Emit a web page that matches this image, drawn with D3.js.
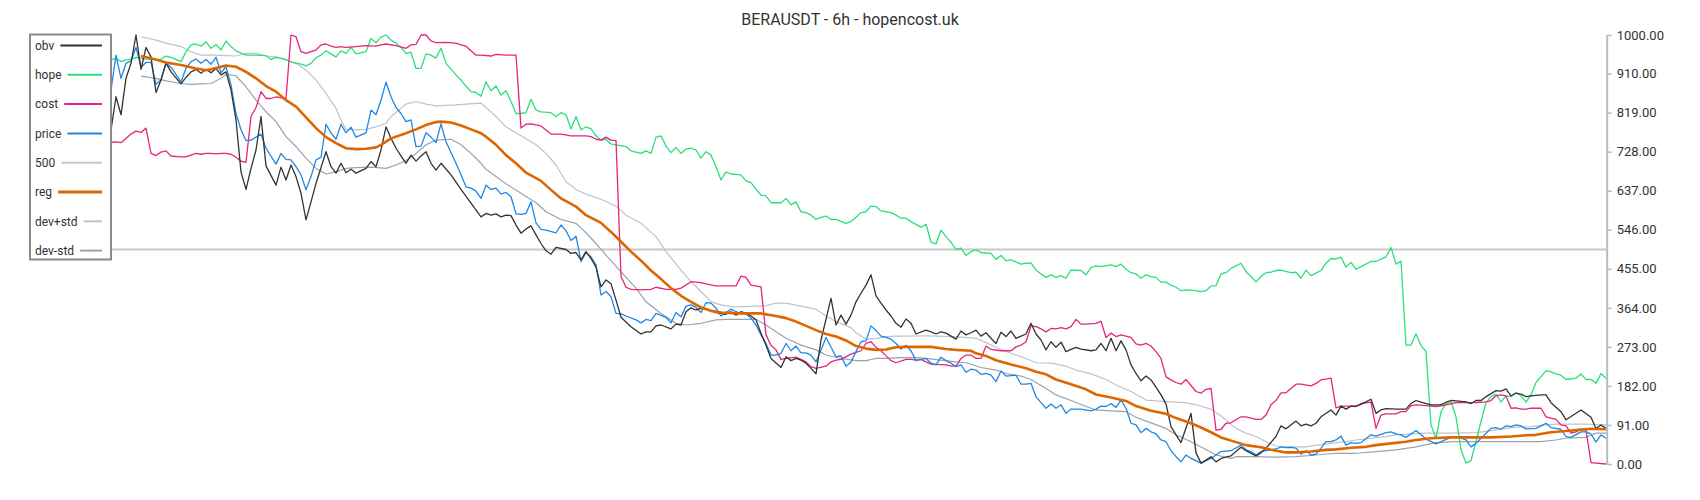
<!DOCTYPE html>
<html><head><meta charset="utf-8">
<script src="https://cdn.jsdelivr.net/npm/d3@7"></script>
<style>body{margin:0;background:#fff} svg{display:block} text{font-family:Roboto,"Noto Sans",sans-serif}</style>
</head><body><svg id="c" width="1700" height="500"></svg>
<script>
const chartTitle = "BERAUSDT - 6h - hopencost.uk";
const yTicks = [0,91,182,273,364,455,546,637,728,819,910,1000];
const level500 = 500;
const barCount = 300;
// [bar index, value]
const obv = [[0,779],[1,856],[2,814],[3,899],[4,934],[5,1000],[6,920],[7,971],[8,949],[9,866],[10,895],[11,935],[12,914],[14,886],[15,901],[16,914],[17,920],[18,911],[19,920],[20,912],[21,922],[22,907],[23,914],[24,872],[25,802],[26,681],[27,640],[28,689],[29,732],[30,810],[31,695],[33,650],[34,692],[35,662],[36,697],[37,670],[38,631],[39,569],[40,611],[41,654],[43,728],[44,693],[45,678],[46,701],[47,679],[48,687],[49,678],[51,689],[52,705],[53,693],[54,732],[55,786],[56,759],[57,736],[58,718],[59,701],[60,720],[61,706],[62,718],[63,728],[64,701],[65,685],[66,701],[68,674],[70,640],[72,608],[74,576],[75,584],[76,580],[77,583],[78,576],[79,580],[80,579],[81,557],[82,538],[83,548],[84,555],[85,534],[86,514],[87,497],[88,489],[89,505],[91,500],[92,491],[93,493],[94,476],[95,495],[96,479],[97,459],[98,413],[99,429],[100,420],[101,382],[102,342],[104,320],[106,303],[107,308],[108,308],[109,322],[110,324],[112,315],[113,326],[114,324],[115,355],[116,364],[117,359],[118,363],[119,361],[120,357],[121,353],[123,349],[124,355],[125,347],[126,355],[127,351],[128,345],[129,336],[130,305],[131,277],[132,246],[134,225],[135,250],[136,241],[137,246],[138,242],[139,235],[140,223],[141,210],[142,289],[144,386],[145,324],[146,347],[147,326],[148,347],[149,378],[150,398],[151,417],[152,441],[153,392],[154,375],[155,359],[156,345],[157,328],[158,319],[159,338],[160,328],[161,303],[163,312],[164,308],[165,303],[166,308],[167,305],[168,298],[169,291],[170,310],[171,301],[172,306],[173,312],[174,298],[175,306],[176,293],[177,281],[178,307],[179,297],[180,310],[181,293],[183,303],[184,328],[185,303],[186,289],[187,266],[188,285],[189,272],[190,284],[191,262],[192,267],[193,272],[194,268],[196,264],[197,266],[198,281],[199,264],[200,293],[201,264],[202,287],[203,266],[204,231],[205,211],[206,194],[207,205],[208,196],[209,179],[210,161],[211,140],[212,87],[213,68],[214,50],[216,118],[217,26],[218,2],[219,9],[220,17],[221,5],[222,13],[224,19],[226,39],[227,31],[229,19],[230,26],[231,37],[233,64],[234,89],[235,82],[237,100],[238,89],[239,93],[240,89],[241,95],[242,110],[244,126],[245,114],[246,135],[247,128],[248,135],[249,135],[250,139],[252,151],[253,118],[254,126],[255,129],[257,128],[259,128],[260,141],[261,148],[262,144],[264,138],[266,138],[267,144],[268,148],[269,147],[271,145],[272,141],[273,148],[274,148],[275,157],[277,171],[278,170],[279,175],[280,159],[281,165],[282,163],[283,157],[284,159],[286,161],[287,161],[288,143],[290,122],[291,103],[294,126],[296,109],[297,83],[298,91],[299,83]];
const hope = [[0,942],[1,946],[2,938],[3,942],[4,944],[5,948],[7,944],[9,942],[10,944],[11,951],[12,948],[14,938],[15,961],[16,977],[17,979],[18,974],[19,984],[20,969],[21,978],[22,965],[23,986],[24,973],[25,963],[27,953],[29,953],[31,952],[32,943],[33,948],[35,943],[36,937],[38,932],[39,928],[40,934],[41,947],[42,953],[43,963],[44,956],[45,949],[46,963],[47,957],[48,971],[49,956],[51,961],[52,992],[53,982],[54,995],[55,1000],[56,988],[57,981],[58,971],[59,957],[60,960],[61,922],[62,922],[63,956],[64,953],[65,946],[66,969],[67,934],[69,907],[70,895],[71,881],[72,868],[73,866],[74,857],[75,891],[76,870],[77,881],[78,860],[79,870],[80,845],[81,817],[82,817],[83,819],[84,850],[85,825],[86,821],[88,819],[89,810],[90,819],[91,814],[92,781],[93,810],[94,779],[95,786],[96,781],[97,765],[98,755],[99,757],[100,746],[101,744],[103,740],[104,730],[106,724],[107,730],[108,724],[109,762],[110,765],[111,741],[112,726],[113,738],[114,724],[115,734],[116,736],[117,732],[118,713],[119,728],[120,720],[121,693],[122,662],[123,681],[124,676],[126,674],[127,660],[128,656],[129,640],[130,627],[131,625],[132,609],[133,609],[134,609],[135,619],[136,604],[137,611],[138,588],[139,586],[140,580],[141,570],[142,575],[143,578],[144,570],[145,570],[147,561],[148,565],[149,575],[150,586],[151,588],[152,601],[153,600],[154,590],[156,586],[157,580],[158,573],[159,573],[160,565],[162,552],[163,559],[164,517],[165,513],[166,545],[167,530],[168,517],[169,500],[170,503],[171,486],[172,495],[173,499],[174,493],[176,491],[177,477],[178,486],[179,474],[180,476],[182,466],[183,468],[184,469],[185,452],[186,443],[187,435],[188,441],[189,435],[190,439],[191,433],[192,452],[194,451],[195,441],[196,458],[197,462],[198,460],[200,464],[201,460],[202,466],[203,454],[204,446],[205,443],[206,433],[207,441],[208,437],[209,435],[210,424],[211,424],[212,417],[213,412],[214,404],[215,406],[217,404],[218,402],[219,404],[220,415],[221,416],[222,443],[223,446],[224,456],[226,468],[227,448],[228,437],[229,424],[230,437],[231,446],[232,447],[233,451],[234,452],[236,446],[237,447],[238,433],[239,452],[240,439],[241,445],[242,451],[243,468],[244,479],[245,478],[246,482],[247,459],[248,470],[249,454],[250,460],[252,472],[253,472],[255,483],[256,505],[257,466],[258,473],[259,277],[260,277],[261,303],[262,276],[263,262],[264,91],[265,60],[266,122],[267,141],[268,145],[269,110],[270,33],[271,2],[272,8],[274,99],[275,143],[276,157],[277,163],[278,144],[279,159],[280,157],[281,166],[282,159],[283,144],[284,161],[285,190],[287,217],[288,215],[289,210],[290,207],[291,197],[293,200],[294,210],[295,197],[296,197],[297,188],[298,211],[299,200]];
const cost = [[0,750],[1,751],[2,749],[3,759],[4,769],[5,776],[6,773],[7,783],[8,724],[9,719],[10,727],[11,730],[12,718],[14,716],[15,716],[16,720],[17,724],[18,722],[19,724],[20,724],[21,723],[22,724],[23,724],[24,722],[25,715],[26,706],[27,703],[28,810],[29,831],[30,868],[31,852],[32,852],[33,856],[35,852],[36,1000],[37,996],[38,961],[39,957],[40,961],[41,965],[42,977],[43,979],[44,974],[45,971],[46,973],[47,971],[49,973],[51,975],[53,974],[54,977],[55,979],[57,975],[59,969],[60,977],[61,978],[62,1000],[63,1000],[64,986],[65,982],[67,983],[69,981],[70,977],[71,974],[73,953],[74,953],[76,951],[77,955],[79,953],[81,953],[82,783],[83,792],[84,793],[86,788],[88,769],[90,769],[92,765],[93,765],[95,765],[96,763],[97,757],[98,755],[99,762],[100,755],[101,754],[102,437],[103,412],[104,407],[106,406],[108,407],[109,412],[111,407],[113,407],[114,410],[116,425],[118,423],[119,420],[121,415],[123,415],[125,415],[126,438],[127,435],[128,417],[130,413],[131,301],[132,277],[133,266],[134,244],[135,246],[137,249],[138,244],[139,238],[140,227],[141,223],[143,228],[144,238],[145,242],[146,244],[148,256],[149,260],[150,264],[151,281],[152,285],[153,272],[154,264],[155,252],[156,241],[157,236],[159,244],[160,244],[161,242],[162,244],[163,238],[164,233],[165,232],[167,231],[168,228],[169,228],[170,246],[171,254],[172,254],[173,246],[174,246],[175,275],[176,267],[178,264],[179,264],[180,264],[181,273],[182,277],[183,285],[184,322],[185,320],[186,315],[187,308],[188,316],[189,315],[190,318],[191,315],[192,320],[193,337],[194,326],[195,326],[197,328],[198,333],[199,295],[200,305],[201,297],[202,301],[203,298],[204,295],[205,280],[206,277],[207,281],[208,275],[209,262],[210,246],[211,203],[212,196],[213,190],[214,186],[215,197],[217,169],[218,165],[219,174],[220,176],[221,79],[222,81],[223,95],[224,96],[226,110],[227,110],[229,104],[230,104],[231,114],[232,138],[233,148],[234,166],[235,166],[237,186],[238,186],[240,182],[241,188],[242,196],[244,200],[245,131],[246,135],[248,135],[249,134],[250,141],[252,144],[253,83],[254,114],[255,117],[257,117],[258,122],[259,122],[260,136],[261,138],[263,136],[265,134],[267,138],[269,143],[271,143],[273,143],[275,145],[276,148],[277,159],[278,161],[279,159],[280,130],[281,131],[282,128],[283,128],[284,130],[286,130],[287,110],[289,104],[290,91],[291,89],[292,72],[293,75],[294,81],[295,79],[296,3],[297,2],[299,0]];
const price = [[0,872],[1,953],[2,899],[3,934],[4,940],[5,971],[6,925],[7,936],[8,936],[9,885],[10,895],[11,935],[12,925],[14,891],[15,922],[16,938],[17,944],[18,934],[19,943],[20,932],[21,948],[22,912],[23,926],[24,883],[25,817],[26,779],[27,754],[28,755],[29,762],[30,769],[31,736],[33,699],[34,724],[35,710],[36,709],[37,693],[38,674],[39,639],[40,670],[41,709],[42,715],[43,792],[44,772],[45,757],[46,792],[47,772],[48,785],[49,762],[51,772],[52,825],[53,814],[54,848],[55,890],[56,856],[57,831],[58,817],[59,798],[60,802],[61,740],[62,741],[63,772],[64,762],[65,749],[66,793],[67,751],[69,701],[70,674],[71,646],[72,643],[73,636],[74,619],[75,650],[76,640],[77,643],[78,629],[79,633],[80,623],[81,583],[82,582],[83,584],[84,611],[85,562],[86,547],[87,545],[89,539],[90,557],[91,544],[92,521],[93,531],[94,472],[95,493],[96,483],[97,464],[98,394],[99,402],[100,390],[101,351],[102,350],[103,345],[105,336],[106,329],[107,337],[108,334],[109,351],[111,342],[112,329],[113,353],[114,343],[115,368],[116,371],[117,365],[118,353],[119,376],[120,375],[121,363],[122,345],[124,361],[125,355],[126,351],[127,350],[128,340],[129,324],[130,301],[131,281],[132,254],[133,254],[134,258],[135,281],[136,264],[137,275],[138,259],[139,259],[140,254],[141,238],[142,266],[143,295],[145,250],[146,252],[147,228],[148,238],[149,262],[150,285],[151,287],[152,322],[153,311],[154,298],[155,295],[156,291],[157,281],[158,268],[159,277],[160,264],[161,241],[163,246],[164,235],[165,231],[166,249],[167,241],[168,235],[169,227],[170,231],[171,214],[172,221],[173,219],[174,209],[175,211],[176,207],[177,192],[178,217],[179,205],[181,207],[182,186],[183,186],[184,188],[185,157],[186,143],[187,130],[188,140],[189,130],[190,138],[191,118],[192,128],[194,128],[196,124],[197,128],[198,135],[199,134],[200,141],[201,132],[202,149],[203,130],[204,95],[205,91],[206,73],[207,83],[208,75],[209,70],[210,56],[211,52],[212,31],[213,17],[214,5],[215,21],[216,13],[218,2],[219,8],[220,13],[221,21],[222,29],[224,31],[226,44],[227,33],[228,29],[229,21],[230,29],[231,31],[233,35],[234,40],[235,38],[236,39],[237,37],[238,23],[239,31],[240,21],[241,23],[242,37],[243,52],[244,52],[245,56],[246,65],[247,44],[248,50],[249,48],[250,50],[252,68],[253,65],[254,69],[255,73],[256,75],[257,70],[258,68],[259,62],[260,70],[261,78],[262,68],[263,58],[265,47],[266,52],[268,62],[269,64],[270,60],[271,56],[272,40],[273,48],[274,60],[276,83],[277,85],[278,81],[279,89],[280,87],[281,91],[282,89],[283,82],[285,83],[286,89],[287,95],[288,85],[290,81],[291,64],[292,62],[294,75],[295,75],[296,70],[297,51],[298,68],[299,60]];
const reg = [[6,951],[9,943],[11,936],[14,930],[17,922],[19,918],[20,920],[22,926],[23,929],[25,926],[27,914],[29,899],[31,881],[33,868],[35,848],[37,833],[39,808],[41,783],[43,762],[45,748],[47,736],[49,734],[51,735],[53,738],[54,744],[56,759],[59,771],[61,780],[63,790],[65,797],[66,798],[68,796],[70,789],[72,780],[74,771],[75,763],[77,744],[79,720],[81,701],[83,679],[86,660],[88,639],[90,619],[93,600],[95,580],[98,562],[100,541],[102,518],[104,495],[106,474],[108,451],[110,431],[112,410],[114,392],[116,378],[118,365],[120,357],[122,353],[125,351],[127,351],[130,351],[133,345],[135,340],[137,332],[139,322],[141,312],[143,303],[145,297],[147,288],[149,275],[151,269],[153,266],[155,267],[157,272],[159,273],[161,273],[164,273],[167,268],[169,266],[172,264],[173,258],[175,252],[177,242],[180,232],[183,223],[185,215],[187,209],[189,197],[192,186],[195,174],[197,162],[200,155],[203,147],[205,135],[208,124],[211,117],[213,107],[216,95],[218,85],[220,74],[222,62],[225,51],[227,44],[230,39],[232,33],[235,27],[237,27],[240,29],[243,33],[245,34],[248,38],[251,40],[253,44],[256,48],[259,52],[261,56],[264,60],[268,62],[272,62],[276,62],[280,64],[283,67],[285,68],[288,74],[291,77],[293,79],[296,82],[299,81]];
const devPlus = [[6,996],[9,988],[11,981],[14,973],[16,961],[18,953],[21,953],[23,952],[25,951],[27,957],[29,957],[31,951],[33,949],[35,942],[37,934],[39,918],[41,895],[43,864],[45,829],[46,802],[47,780],[49,779],[51,780],[53,786],[55,794],[56,810],[58,829],[59,839],[61,845],[63,839],[65,835],[69,837],[71,839],[74,841],[75,831],[77,810],[79,786],[82,765],[85,744],[87,724],[89,697],[91,658],[93,640],[95,629],[98,617],[101,601],[103,580],[106,561],[109,530],[111,495],[114,452],[116,425],[118,402],[120,378],[122,371],[124,367],[127,367],[129,368],[131,369],[133,375],[135,375],[138,368],[141,361],[143,345],[145,332],[148,318],[149,306],[151,291],[153,293],[155,297],[157,298],[160,298],[163,299],[165,298],[168,297],[171,295],[173,293],[175,283],[177,272],[180,258],[183,246],[185,236],[188,235],[191,228],[193,219],[196,210],[199,197],[201,184],[204,169],[207,149],[209,147],[212,145],[215,143],[217,138],[220,128],[222,112],[225,83],[227,72],[229,64],[231,52],[233,42],[235,40],[239,40],[241,44],[244,48],[247,52],[249,56],[252,60],[255,64],[257,68],[260,70],[263,72],[268,72],[273,73],[276,78],[279,83],[281,86],[284,87],[287,91],[289,93],[292,93],[295,93],[299,91]];
const devMinus = [[6,904],[9,899],[11,893],[14,887],[16,885],[18,886],[20,887],[22,899],[23,908],[25,905],[27,879],[29,848],[31,821],[33,798],[35,763],[37,740],[39,713],[41,689],[43,676],[45,681],[47,689],[49,691],[52,692],[55,689],[57,697],[59,707],[61,724],[63,744],[65,755],[68,757],[70,744],[72,724],[74,701],[75,687],[77,670],[79,653],[82,631],[85,609],[87,588],[90,570],[93,561],[95,539],[97,514],[99,487],[102,448],[105,410],[107,378],[110,351],[113,328],[115,324],[118,328],[121,336],[123,337],[126,337],[129,337],[131,324],[133,308],[135,293],[138,277],[141,266],[143,254],[146,246],[149,241],[151,241],[153,246],[155,246],[158,248],[161,248],[163,246],[166,242],[169,238],[171,236],[174,225],[177,219],[179,211],[182,205],[184,197],[187,176],[189,161],[192,148],[195,134],[197,126],[200,124],[203,122],[205,109],[208,96],[211,83],[213,68],[216,52],[219,34],[221,21],[224,13],[225,17],[229,17],[233,16],[237,17],[241,21],[245,25],[249,25],[253,29],[257,33],[261,40],[265,50],[269,52],[273,52],[277,52],[281,52],[286,52],[289,56],[291,60],[295,62],[297,72],[299,72]];

const legendNames = ["obv","hope","cost","price","500","reg","dev+std","dev-std"];

const svg = d3.select("#c");
const x = d3.scaleLinear().domain([0, barCount-1]).range([111, 1606]);
const y = d3.scaleLinear().domain([0, 1000]).range([464, 35]);
const line = d3.line().x(d=>x(d[0])).y(d=>y(d[1]));

const styles = {
  "obv":{c:"#333333",w:1.3},
  "hope":{c:"#2be07a",w:1.3},
  "cost":{c:"#e8237f",w:1.3},
  "price":{c:"#1e88e5",w:1.3},
  "500":{c:"#c8c8c8",w:2},
  "reg":{c:"#dd6600",w:2.6},
  "dev+std":{c:"#bcc4cc",w:1.2},
  "dev-std":{c:"#98a3ae",w:1.2}
};
const seriesData = {"obv":obv,"hope":hope,"cost":cost,"price":price,"reg":reg,"dev+std":devPlus,"dev-std":devMinus};

// 500 reference level
svg.append("line").attr("x1",x(0)).attr("x2",x(barCount-1))
  .attr("y1",y(level500)).attr("y2",y(level500))
  .attr("stroke",styles["500"].c).attr("stroke-width",styles["500"].w);

const drawOrder = ["dev+std","dev-std","hope","cost","price","obv","reg"];
drawOrder.forEach(n=>{
  svg.append("path").datum(seriesData[n]).attr("d",line)
    .attr("fill","none").attr("stroke",styles[n].c).attr("stroke-width",styles[n].w)
    .attr("stroke-linejoin","round");
});

// right axis
const ax = svg.append("g").attr("transform","translate(1606.7,0)")
  .call(d3.axisRight(y).tickValues(yTicks).tickFormat(d3.format(".2f")).tickSize(5).tickPadding(5).tickSizeOuter(0));
ax.select(".domain").attr("stroke","#b3bbc3").attr("stroke-width",2);
ax.selectAll(".tick line").attr("stroke","#b3bbc3").attr("stroke-width",1.5);
ax.selectAll(".tick text").attr("fill","#333").style("font-size","13px").style("font-family","Roboto");

// title
svg.append("text").attr("x",850).attr("y",25).attr("text-anchor","middle")
  .attr("fill","#333").style("font-size","16px").text(chartTitle);

// legend
const lg = svg.append("g");
lg.append("rect").attr("x",30).attr("y",34.5).attr("width",81).attr("height",225)
  .attr("fill","#fff").attr("stroke","#8a8a8a").attr("stroke-width",2);
legendNames.forEach((n,i)=>{
  const cy = 45.5 + i*29.3;
  const t = lg.append("text").attr("x",35).attr("y",cy).attr("dy","0.35em")
    .attr("fill","#333").style("font-size","12px").text(n);
  const tw = t.node().getComputedTextLength();
  lg.append("line").attr("x1",35+tw+6).attr("x2",102).attr("y1",cy).attr("y2",cy)
    .attr("stroke",styles[n].c).attr("stroke-width", n==="reg"?3:2);
});
</script></body></html>
